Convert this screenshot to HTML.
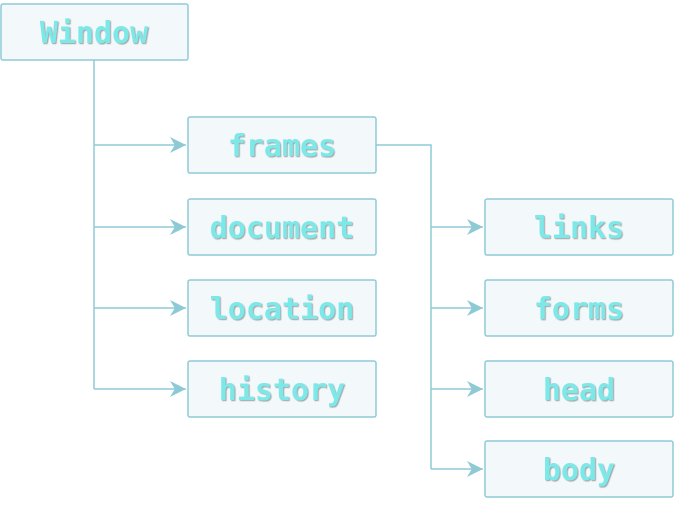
<!DOCTYPE html>
<html><head><style>body{margin:0;background:#fff}</style></head><body>
<svg width="674" height="513" xmlns="http://www.w3.org/2000/svg" style="display:block">
<defs>
<marker id="a" viewBox="0 0 10 10" refX="10" refY="5" markerWidth="16" markerHeight="16" markerUnits="userSpaceOnUse" orient="auto">
<path d="M0,0 L10,5 L0,10 L3,5 Z" fill="#8ecad6"/></marker>
<filter id="s"><feDropShadow dx="1" dy="1" stdDeviation="0.6" flood-color="#777" flood-opacity="0.7"/></filter>
</defs>
<g fill="none" stroke="#8ecad6" stroke-width="1.5">
<path d="M94 60 V389"/>
<path d="M94 145 H186" marker-end="url(#a)"/>
<path d="M94 227 H186" marker-end="url(#a)"/>
<path d="M94 308 H186" marker-end="url(#a)"/>
<path d="M94 389 H186" marker-end="url(#a)"/>
<path d="M376 145 H431 V469"/>
<path d="M431 227 H483" marker-end="url(#a)"/>
<path d="M431 308 H483" marker-end="url(#a)"/>
<path d="M431 389 H483" marker-end="url(#a)"/>
<path d="M431 469 H483" marker-end="url(#a)"/>
</g>
<g fill="#f3f8fb" stroke="#8ecad6" stroke-width="1.5">
<rect x="1" y="4" width="187" height="56" rx="2"/>
<rect x="188" y="117" width="188" height="56" rx="2"/>
<rect x="188" y="199" width="188" height="56" rx="2"/>
<rect x="188" y="280" width="188" height="56" rx="2"/>
<rect x="188" y="361" width="188" height="56" rx="2"/>
<rect x="485" y="199" width="188" height="56" rx="2"/>
<rect x="485" y="280" width="188" height="56" rx="2"/>
<rect x="485" y="361" width="188" height="56" rx="2"/>
<rect x="485" y="441" width="188" height="56" rx="2"/>
</g>
<g font-family="'DejaVu Sans Mono',monospace" font-weight="bold" font-size="30" fill="#7de8e8" text-anchor="middle" filter="url(#s)">
<text x="94" y="43">Window</text>
<text x="282" y="156">frames</text>
<text x="282" y="238">document</text>
<text x="282" y="319">location</text>
<text x="282" y="400">history</text>
<text x="579" y="238">links</text>
<text x="579" y="319">forms</text>
<text x="579" y="400">head</text>
<text x="579" y="480">body</text>
</g>
</svg>
</body></html>
